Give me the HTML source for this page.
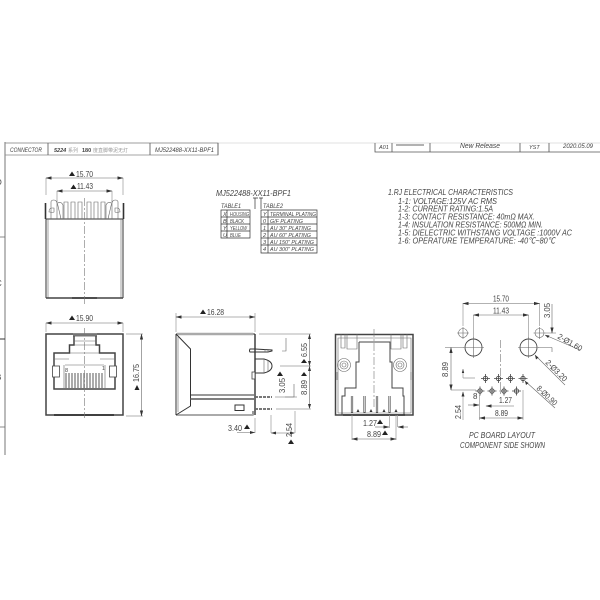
<!DOCTYPE html>
<html><head><meta charset="utf-8"><style>
html,body{margin:0;padding:0;background:#fff;width:600px;height:600px;overflow:hidden}
svg{display:block}
text{font-family:"Liberation Sans","Noto Sans CJK SC",sans-serif;fill:#444}
.i{font-style:italic}
.o{fill:none;stroke:#333;stroke-width:1}
.t{fill:none;stroke:#666;stroke-width:.6}
.h{fill:none;stroke:#444;stroke-width:1.5}
.g{fill:none;stroke:#999;stroke-width:.7}
.c{fill:none;stroke:#777;stroke-width:.6;stroke-dasharray:8 2 2 2}
</style></head><body>
<svg width="600" height="600" viewBox="0 0 600 600" xmlns="http://www.w3.org/2000/svg">
<defs>
<marker id="a" markerWidth="6" markerHeight="4" refX="5.5" refY="2" orient="auto-start-reverse" markerUnits="userSpaceOnUse"><path d="M0 0.4L6 2L0 3.6z" fill="#333"/></marker>
</defs>
<!-- frame -->
<path d="M5 143H600" stroke="#e2e2e2" stroke-width="1" fill="none"/>
<path d="M5 142V455" stroke="#aaa" stroke-width="1.6" fill="none"/>
<path d="M0 237H5M0 427H5" stroke="#666" stroke-width=".8"/>
<path d="M0 339H5" stroke="#333" stroke-width="1"/>
<text x="-4" y="185" font-size="8">D</text><text x="-4" y="286" font-size="8">C</text><text x="-4" y="380" font-size="8">B</text>
<!-- title left -->
<path d="M5 143H218V155H5" fill="none" stroke="#888" stroke-width=".8"/>
<path d="M48 143V155M150 143V155M218 143V155" stroke="#555" stroke-width=".8"/>
<text class="i" x="10" y="152" font-size="6.500" textLength="32" lengthAdjust="spacingAndGlyphs">CONNECTOR</text>
<text x="54" y="152" font-size="5.500" font-weight="bold" font-style="italic">5224</text><text x="68" y="152" font-size="5" style="fill:#999">系列</text>
<text x="82" y="152" font-size="5.500" font-weight="bold">180</text><text x="93" y="152" font-size="5" style="fill:#999">度直脚带泥无灯</text>
<text class="i" x="155" y="152" font-size="6.500" textLength="59" lengthAdjust="spacingAndGlyphs">MJ522488-XX11-BPF1</text>
<!-- title right -->
<path d="M375 143V152H392V143M430 143V152M520 143V152M549 143V152M375 152H600" stroke="#555" stroke-width=".8" fill="none"/>
<path d="M396 145H424" stroke="#333" stroke-width=".8"/>
<text class="i" x="379" y="149" font-size="5.500">A01</text>
<text class="i" x="460" y="148" font-size="7" textLength="40" lengthAdjust="spacingAndGlyphs">New Release</text>
<text class="i" x="529" y="149" font-size="5.500">YST</text>
<text class="i" x="563" y="148" font-size="6.500" textLength="30" lengthAdjust="spacingAndGlyphs">2020.05.09</text>

<!-- top view -->
<g>
<path class="o" d="M46 219H123M46 219V298M123 219V298"/>
<path class="t" d="M48 219V298M121 219V298"/>
<path class="h" d="M46 298H123"/><path d="M72 298H97" stroke="#333" stroke-width="1.600"/>
<path class="c" d="M84.500 198V305"/>
<path d="M45.500 219V203M123.500 219V203" fill="none" stroke="#333" stroke-width="1.600"/>
<path class="t" d="M51 219V202Q51 200 54 200Q57 200 58 206L61 219M49 212Q49 208 52 208L54 208V212Q52 213 50 212z"/>
<path class="t" d="M118 219V202Q118 200 115 200Q112 200 111 206L108 219M120 212Q120 208 117 208L115 208V212Q117 213 119 212z"/>
<path class="t" d="M57 200V219M112 200V219M64 219V202H68V219M71 219V202H75V219M78 219V202H82V219M87 219V202H91V219M94 219V202H98V219M101 219V202H105V219"/>
<path class="t" d="M58 203Q61 201 63 205V219M111 203Q108 201 106 205V219"/>
<path class="g" d="M46 178V195M123 178V195M57 191V200M112 191V200"/>
<path class="t" d="M46 178H123" marker-start="url(#a)" marker-end="url(#a)"/>
<path class="t" d="M57 191H112" marker-start="url(#a)" marker-end="url(#a)"/>
<path d="M69 176L72 171.500L75 176z" fill="#222"/><text x="76" y="177" font-size="8.500" textLength="17" lengthAdjust="spacingAndGlyphs">15.70</text>
<path d="M70.500 189L73.500 184.500L76.500 189z" fill="#222"/><text x="77" y="189" font-size="8.500" textLength="16" lengthAdjust="spacingAndGlyphs">11.43</text>
</g>

<!-- MPN tables -->
<text class="i" x="216" y="196" font-size="8.500" textLength="75" lengthAdjust="spacingAndGlyphs">MJ522488-XX11-BPF1</text>
<path d="M255 198V209M261 198V209M253 198H258M259 198H263" stroke="#333" stroke-width=".7" fill="none"/>
<text class="i" x="221" y="208" font-size="6" textLength="20" lengthAdjust="spacingAndGlyphs">TABLE1</text>
<text class="i" x="263" y="208" font-size="6" textLength="20" lengthAdjust="spacingAndGlyphs">TABLE2</text>
<path class="o" style="stroke-width:.7" d="M221 210H250V238H221zM221 217H250M221 224H250M221 231H250M227 210V238"/>
<path class="o" style="stroke-width:.7" d="M261 210H317V253H261zM261 217H317M261 224H317M261 231H317M261 238H317M261 245H317M268 210V253"/>
<g class="i" font-size="5.500">
<text x="223" y="216">X</text><text x="230" y="216" textLength="19" lengthAdjust="spacingAndGlyphs">HOUSING</text>
<text x="223" y="223">B</text><text x="230" y="223" textLength="14" lengthAdjust="spacingAndGlyphs">BLACK</text>
<text x="223" y="230">Y</text><text x="230" y="230" textLength="17" lengthAdjust="spacingAndGlyphs">YELLOW</text>
<text x="223" y="237">U</text><text x="230" y="237" textLength="11" lengthAdjust="spacingAndGlyphs">BLUE</text>
<text x="263" y="216">Y</text><text x="270" y="216" textLength="46" lengthAdjust="spacingAndGlyphs">TERMINAL PLATING</text>
<text x="263" y="223">0</text><text x="270" y="223" textLength="33" lengthAdjust="spacingAndGlyphs">G/F PLATING</text>
<text x="263" y="230">1</text><text x="270" y="230" textLength="41" lengthAdjust="spacingAndGlyphs">AU 30" PLATING</text>
<text x="263" y="237">2</text><text x="270" y="237" textLength="41" lengthAdjust="spacingAndGlyphs">AU 60" PLATING</text>
<text x="263" y="244">3</text><text x="270" y="244" textLength="44" lengthAdjust="spacingAndGlyphs">AU 150" PLATING</text>
<text x="263" y="251">4</text><text x="270" y="251" textLength="44" lengthAdjust="spacingAndGlyphs">AU 300" PLATING</text>
</g>

<!-- notes -->
<g class="i" font-size="8.500">
<text x="388" y="195" textLength="125" lengthAdjust="spacingAndGlyphs">1.RJ ELECTRICAL CHARACTERISTICS</text>
<text x="398" y="204" textLength="99" lengthAdjust="spacingAndGlyphs">1-1: VOLTAGE:125V AC RMS</text>
<text x="398" y="211.500" textLength="95" lengthAdjust="spacingAndGlyphs">1-2: CURRENT RATING:1.5A</text>
<text x="398" y="219.500" textLength="137" lengthAdjust="spacingAndGlyphs">1-3: CONTACT RESISTANCE: 40mΩ MAX.</text>
<text x="398" y="227.500" textLength="145" lengthAdjust="spacingAndGlyphs">1-4: INSULATION RESISTANCE: 500MΩ MIN.</text>
<text x="398" y="235.500" textLength="174" lengthAdjust="spacingAndGlyphs">1-5: DIELECTRIC WITHSTANG VOLTAGE :1000V AC</text>
<text x="398" y="243.500" textLength="157" lengthAdjust="spacingAndGlyphs">1-6: OPERATURE TEMPERATURE: -40℃~80℃</text>
</g>

<!-- front view -->
<g>
<path class="h" d="M46 334H123V415H46z"/>
<path d="M73 335H97" stroke="#777" stroke-width="3"/>
<path d="M54 415H114" stroke="#333" stroke-width="1.800"/>
<path class="h" d="M74 336V345H69.500V353H54V389H115V353H99.500V345H96V336"/>
<path class="t" d="M74 341H96M74 345H96M70 353H99M55 359H69M100 359H114"/>
<rect x="52.500" y="366" width="7" height="11" fill="#fff" stroke="#444" stroke-width=".8"/>
<rect x="109.500" y="366" width="7" height="11" fill="#fff" stroke="#444" stroke-width=".8"/>
<path class="t" d="M65 365H104M64 365V388M105 365V388"/>
<path d="M66 373V388M69 373V388M72 373V388M75 373V388M78 373V388M81 373V388M84 373V388M87 373V388M90 373V388M93 373V388M96 373V388M99 373V388M102 373V388" stroke="#666" stroke-width="1.100"/>
<text x="65" y="372" font-size="5.500">8</text><text x="102" y="370" font-size="5">1</text>
<path class="c" d="M84.500 328V418"/>
<path class="t" d="M46 323H123" marker-start="url(#a)" marker-end="url(#a)"/>
<path class="g" d="M46 323V332M123 323V332M126 334H143M126 416H143"/>
<path class="t" d="M141.500 334V416" marker-start="url(#a)" marker-end="url(#a)"/>
<path d="M69 320L72 315.500L75 320z" fill="#222"/><text x="76" y="321" font-size="8.500" textLength="17" lengthAdjust="spacingAndGlyphs">15.90</text>
<text x="139" y="382" font-size="8.500" textLength="18" lengthAdjust="spacingAndGlyphs" transform="rotate(-90 139 382)">16.75</text>
<path d="M134.500 390L137 385L139.500 390z" fill="#222"/>
</g>

<!-- side view -->
<g>
<path class="o" d="M176 334H255M176 415H253V411"/>
<path d="M177 334H253" stroke="#aaa" stroke-width="2.400"/>
<path d="M177 415H253" stroke="#aaa" stroke-width="2"/>
<path class="o" d="M176 334V415M176 334L190.500 349V406L176 415"/>
<path class="t" d="M178 337V412"/>
<path class="o" d="M190 395H254"/><path d="M190 399H254" stroke="#555" stroke-width="1.400"/>
<path class="o" style="stroke-width:1.400" d="M255 334V415"/>
<rect x="235" y="405" width="9" height="5.500" fill="#fff" stroke="#333" stroke-width="1"/>
<path class="o" d="M255 349H250Q249 351 250 352H268L272 351V350Z"/>
<path class="t" d="M265 349V352M268 349V352"/>
<path class="o" d="M255 359H264Q272 361 272 366Q272 371 264 373H255"/>
<path class="t" d="M264 359V373M268 361V371"/>
<rect x="252" y="372" width="3" height="7" fill="#fff" stroke="#444" stroke-width=".8"/>
<path d="M255 397H272" stroke="#666" stroke-width="1.800" stroke-dasharray="3 1"/>
<path d="M255 409H272" stroke="#666" stroke-width="1.800" stroke-dasharray="3 1"/>
<path class="g" d="M176 313V332M255 313V332M259 334H311M280 366H311M275 397H297M276 409H311"/>
<path class="t" d="M176 317H255" marker-start="url(#a)" marker-end="url(#a)"/>
<path d="M200 314L203 309.500L206 314z" fill="#222"/><text x="207" y="315" font-size="8.500" textLength="17" lengthAdjust="spacingAndGlyphs">16.28</text>
<path class="t" d="M309.500 334V408"/><path d="M309.500 334L308 339H311zM309.500 366L308 361H311zM309.500 366L308 371H311zM309.500 409L308 404H311z" fill="#333"/>
<path class="t" d="M286 338V351H282M294 384V397H285"/>
<text x="307" y="357" font-size="8.500" textLength="14" lengthAdjust="spacingAndGlyphs" transform="rotate(-90 307 357)">6.55</text>
<path d="M301 363L304 359L307 363z" fill="#222"/>
<text x="307" y="395" font-size="8.500" textLength="15" lengthAdjust="spacingAndGlyphs" transform="rotate(-90 307 395)">8.89</text>
<path d="M301 376L304 372L307 376z" fill="#222"/>
<text x="285" y="393" font-size="8.500" textLength="15" lengthAdjust="spacingAndGlyphs" transform="rotate(-90 285 393)">3.05</text>
<path d="M277 376L280 371.500L283 376z" fill="#222"/>
<text x="228" y="431" font-size="8.500" textLength="14" lengthAdjust="spacingAndGlyphs">3.40</text><path d="M244 429L247 424.500L250 429z" fill="#222"/>
<path class="g" d="M255 418V433M271 415V433"/>
<path class="t" d="M237 432.500H255M271 433H294"/>
<path class="g" d="M295 411V433"/>
<path d="M255 432.500L250 431V434zM271 433L276 431.500V434.500zM295 433L290 431.500V434.500z" fill="#333"/>
<text x="292" y="437" font-size="8.500" textLength="14" lengthAdjust="spacingAndGlyphs" transform="rotate(-90 292 437)">2.54</text>
<path d="M288 444L291 439.500L294 444z" fill="#222"/>
</g>

<!-- back view -->
<g>
<path class="h" d="M335.500 334.500H413V415H335.500z"/>
<path class="t" d="M338 338H411V413H338z"/>
<path class="h" style="stroke-width:1" d="M359 342H390V362H392V388H403V396H404V415M359 342V362H356V388H345V396H342V415"/>
<path class="t" d="M341 334V348H345V334M347 334V349H357V334M391 334V349H401V334M403 334V348H407V334"/>
<circle cx="344" cy="365" r="6.500" class="t"/><circle cx="344" cy="365" r="4" class="t"/><circle cx="344" cy="365" r="2" class="t"/>
<circle cx="400" cy="365" r="6.500" class="t"/><circle cx="400" cy="365" r="4" class="t"/><circle cx="400" cy="365" r="2" class="t"/>
<path class="t" d="M337 372V380M411 372V380"/>
<path d="M343 415H405" stroke="#333" stroke-width="1.400"/>
<path d="M352 396V413M364.500 396V413M377 396V413M389.500 396V413" stroke="#555" stroke-width="2.200"/>
<path d="M352 396V412M364.500 396V412M377 396V412M389.500 396V412" stroke="#fff" stroke-width=".7"/>
<path d="M358 409l1.500 3h-3zM371 409l1.500 3h-3zM384 409l1.500 3h-3zM396 409l1.500 3h-3z" fill="#333"/>
<path class="c" d="M374 329V408"/>
<path class="g" d="M352 415V440M389.500 415V428M396 415V440M397.500 415V427"/>
<path class="t" d="M352 439H396" marker-start="url(#a)" marker-end="url(#a)"/>
<path class="t" d="M375 427H389" marker-end="url(#a)"/>
<path class="t" d="M408 427H398" marker-end="url(#a)"/>
<text x="363" y="426" font-size="8.500" textLength="14" lengthAdjust="spacingAndGlyphs">1.27</text><path d="M377 424L380 419.500L383 424z" fill="#222"/>
<text x="367" y="437" font-size="8.500" textLength="14" lengthAdjust="spacingAndGlyphs">8.89</text><path d="M382 435L385 430.500L388 435z" fill="#222"/>
</g>

<!-- PCB layout -->
<g>
<g class="t">
<circle cx="463" cy="333" r="4.500"/><circle cx="539.500" cy="333" r="4.500"/>
<circle cx="473.500" cy="347.500" r="8.500" style="stroke-width:.9;stroke:#444"/><circle cx="528.500" cy="347.500" r="8.500" style="stroke-width:.9;stroke:#444"/>
<path d="M457 333H469M463 327V339M533.500 333H545.500M539.500 327V339M463 347.500H484M473.500 337V358M518 347.500H539M528.500 337V358"/>
</g>
<path class="c" d="M500.500 340V396"/>
<path class="g" d="M463 303V326M539.500 303V326M473.500 315V338M528.500 315V338M545 333H556M445 347.500H465M537 347.500H552M451 390H476M463 392V420M479.500 395V420M523 390V420"/>
<path class="t" d="M463 303.500H539.500" marker-start="url(#a)" marker-end="url(#a)"/>
<path class="t" d="M473.500 315H528.500" marker-start="url(#a)" marker-end="url(#a)"/>
<path class="t" d="M451 347.500V390" marker-start="url(#a)" marker-end="url(#a)"/>
<path class="t" d="M552 304V333" marker-end="url(#a)"/>
<path class="t" d="M552 347.500V352"/>
<path class="g" d="M463 378H475M463 369V378"/>
<path d="M463 369l-1.200 4h2.400z" fill="#333"/>
<path class="t" d="M486 406H514" marker-start="url(#a)"/>
<path class="t" d="M468 405H479" marker-end="url(#a)"/>
<path class="t" d="M479.500 418H523" marker-start="url(#a)" marker-end="url(#a)"/>
<path d="M463 391.500l-1.500 5h3z" fill="#333"/>
<g fill="none" stroke="#444" stroke-width=".8">
<circle cx="485.500" cy="378.500" r="2.200"/><circle cx="498.500" cy="378.500" r="2.200"/><circle cx="510.500" cy="378.500" r="2.200"/><circle cx="523" cy="378.500" r="2.200"/>
<circle cx="480" cy="391" r="2.200"/><circle cx="492" cy="391" r="2.200"/><circle cx="504" cy="391" r="2.200"/><circle cx="516.500" cy="391" r="2.200"/>
<path d="M481 378.500H490M485.500 374V383M494 378.500H503M498.500 374V383M506 378.500H515M510.500 374V383M518.500 378.500H527.500M523 374V383M475.500 391H484.500M480 386.500V395.500M487.500 391H496.500M492 386.500V395.500M499.500 391H508.500M504 386.500V395.500M512 391H521M516.500 386.500V395.500"/>
</g>
<path class="t" d="M545 335L580 350M535 355L565 385M525 381L555 408"/>
<path d="M545 335l4.500 .5l-1.500 2.500zM535 355l1 4.500l2.500 -2zM525 381l1 4l2.500 -2z" fill="#333"/>
<text x="493" y="301.500" font-size="8" textLength="16" lengthAdjust="spacingAndGlyphs">15.70</text>
<text x="493" y="313.500" font-size="8" textLength="16" lengthAdjust="spacingAndGlyphs">11.43</text>
<text x="550" y="318" font-size="8" textLength="15" lengthAdjust="spacingAndGlyphs" transform="rotate(-90 550 318)">3.05</text>
<text x="448" y="377" font-size="8" textLength="15" lengthAdjust="spacingAndGlyphs" transform="rotate(-90 448 377)">8.89</text>
<text x="461" y="419" font-size="8" textLength="14" lengthAdjust="spacingAndGlyphs" transform="rotate(-90 461 419)">2.54</text>
<text x="473" y="399" font-size="8">8</text>
<text x="499" y="403" font-size="8" textLength="13" lengthAdjust="spacingAndGlyphs">1.27</text>
<text x="495" y="416" font-size="8" textLength="13" lengthAdjust="spacingAndGlyphs">8.89</text>
<text x="557" y="338" font-size="8" transform="rotate(30 557 338)" textLength="27" lengthAdjust="spacingAndGlyphs">2-Ø1.60</text>
<text x="545" y="363" font-size="8" transform="rotate(45 545 363)" textLength="27" lengthAdjust="spacingAndGlyphs">2-Ø3.20</text>
<text x="536" y="389" font-size="8" transform="rotate(43 536 389)" textLength="25" lengthAdjust="spacingAndGlyphs">8-Ø0.90</text>
<text class="i" x="469" y="438" font-size="8" textLength="66" lengthAdjust="spacingAndGlyphs">PC BOARD LAYOUT</text>
<text class="i" x="460" y="448" font-size="8" textLength="85" lengthAdjust="spacingAndGlyphs">COMPONENT SIDE SHOWN</text>
</g>
</svg>
</body></html>
